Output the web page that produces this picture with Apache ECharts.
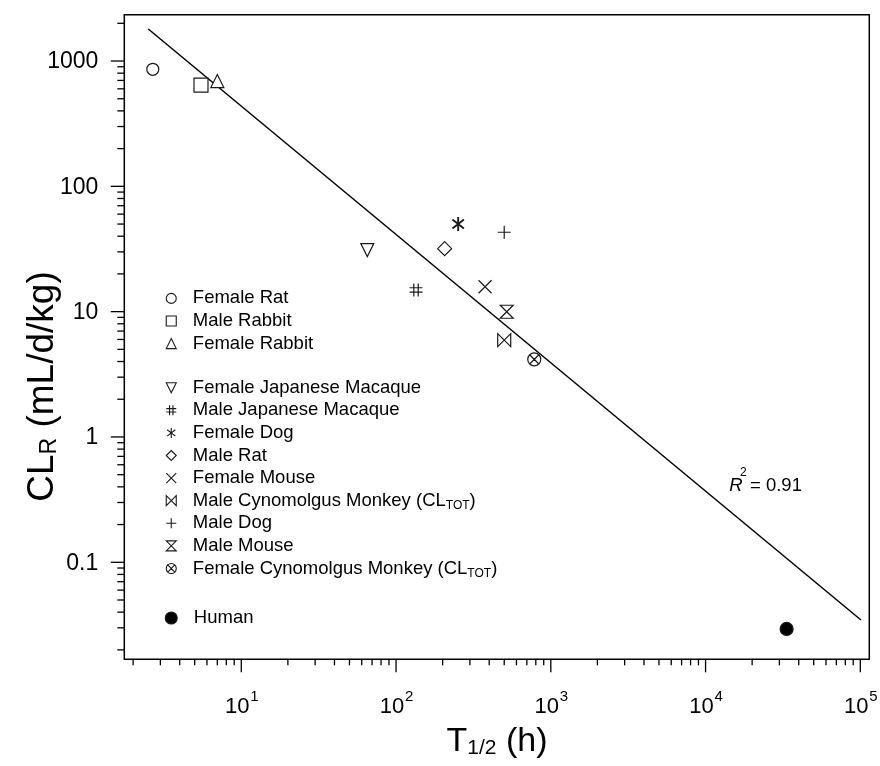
<!DOCTYPE html>
<html>
<head>
<meta charset="utf-8">
<script src="https://cdn.jsdelivr.net/npm/echarts@6.0.0/dist/echarts.min.js"></script>
<style>
  html, body { margin: 0; padding: 0; background: #fff; }
  #chart { width: 880px; height: 766px; }
</style>
</head>
<body>
<div id="chart"></div>
<script>
// Renal clearance versus elimination half-life across species, log-log scale.
const species = [
  'Female Rat', 'Male Rabbit', 'Female Rabbit',
  'Female Japanese Macaque', 'Male Japanese Macaque', 'Female Dog', 'Male Rat',
  'Female Mouse', 'Male Cynomolgus Monkey', 'Male Dog', 'Male Mouse',
  'Female Cynomolgus Monkey', 'Human'
];
const halfLife  = [2.68, 5.49, 7.0, 65.2, 134.6, 252, 206, 376, 500, 500, 519, 782, 33400];
const clearance = [859, 643, 692, 31.0, 14.9, 50.0, 31.8, 15.8, 5.93, 43.0, 9.98, 4.16, 0.0294];
// species whose value is total clearance (CL_TOT)
const totalClearance = ['Male Cynomolgus Monkey', 'Female Cynomolgus Monkey'];

// regression line end points
const fitHalfLife  = [2.506, 101000];
const fitClearance = [1801, 0.0346];
const rSquared = '0.91';

// axis ranges and ticks
const xRange = [1.754, 114300];
const yRange = [0.01682, 2342];
const xMajorTicks = [10, 100, 1000, 10000, 100000];
const xTickExponents = ['1', '2', '3', '4', '5'];
const yMajorTicks = [0.1, 1, 10, 100, 1000];
const yTickLabels = ['0.1', '1', '10', '100', '1000'];
const minorMultipliers = [2, 3, 4, 5, 6, 7, 8, 9];
const decades = [0.01, 0.1, 1, 10, 100, 1000, 10000];

function minorTicks(range) {
  const out = [];
  decades.forEach(d => minorMultipliers.forEach(m => {
    const v = +(d * m).toPrecision(6);
    if (v >= range[0] && v <= range[1]) out.push(v);
  }));
  return out;
}
const xMinorTicks = minorTicks(xRange);
const yMinorTicks = minorTicks(yRange);

const FONT = '"Liberation Sans", Arial, Helvetica, sans-serif';
const INK = '#000';
const MARK = '#1a1a1a';

// marker shapes per species
const markerStyle = {
  'Female Rat':               { symbol: 'circle', size: 12 },
  'Male Rabbit':              { symbol: 'rect', size: 14 },
  'Female Rabbit':            { symbol: 'triangle', size: 13 },
  'Female Japanese Macaque':  { symbol: 'path://M0,0 L10,0 L5,10 Z', size: 13 },
  'Male Japanese Macaque':    { symbol: 'path://M3.3,0 L3.3,10 M6.7,0 L6.7,10 M0,3.3 L10,3.3 M0,6.7 L10,6.7', size: 13 },
  'Female Dog':               { symbol: 'path://M5,0 L5,10 M0.9,1.8 L9.1,8.2 M0.9,8.2 L9.1,1.8', size: 14, width: 1.9 },
  'Male Rat':                 { symbol: 'diamond', size: 14 },
  'Female Mouse':             { symbol: 'path://M0,0 L10,10 M0,10 L10,0', size: 13 },
  'Male Cynomolgus Monkey':   { symbol: 'path://M0,0 L10,10 L10,0 L0,10 Z', size: 13 },
  'Male Dog':                 { symbol: 'path://M5,0 L5,10 M0,5 L10,5', size: 13 },
  'Male Mouse':               { symbol: 'path://M0,0 L10,0 L0,10 L10,10 Z', size: 13 },
  'Female Cynomolgus Monkey': { symbol: 'path://M10,5 A5,5 0 1 1 0,5 A5,5 0 1 1 10,5 Z M1.46,1.46 L8.54,8.54 M1.46,8.54 L8.54,1.46', size: 13 },
  'Human':                    { symbol: 'circle', size: 13, fill: '#000' }
};

const scatterSeries = species.map((name, i) => {
  const m = markerStyle[name];
  return {
    type: 'scatter',
    name: name,
    data: [[halfLife[i], clearance[i]]],
    symbol: m.symbol,
    symbolSize: m.size,
    symbolKeepAspect: true,
    itemStyle: { color: m.fill || '#fff', borderColor: MARK, borderWidth: m.width || 1.2, opacity: 1 },
    z: 4,
    silent: true
  };
});

const fitSeries = {
  type: 'line',
  name: 'fit',
  data: fitHalfLife.map((t, i) => [t, fitClearance[i]]),
  showSymbol: false,
  symbol: 'none',
  lineStyle: { color: INK, width: 1.5 },
  z: 3,
  silent: true
};

const TICK = { stroke: INK, lineWidth: 1.3 };

const xMajorSeries = {
  type: 'custom', name: 'xMajor', silent: true, clip: false, z: 5,
  data: xMajorTicks.map(v => [v, 1]),
  renderItem: (params, api) => {
    const cs = params.coordSys;
    const x = api.coord([api.value(0), 1])[0];
    const b = cs.y + cs.height;
    return {
      type: 'group',
      children: [
        { type: 'line', shape: { x1: x, y1: b, x2: x, y2: b + 13 }, style: TICK },
        { type: 'text', x: x - 4, y: b + 47.2,
          style: { text: '10', font: '22px ' + FONT, fill: INK, align: 'center', verticalAlign: 'middle' } },
        { type: 'text', x: x + 9, y: b + 37.5,
          style: { text: xTickExponents[params.dataIndex], font: '15px ' + FONT, fill: INK, align: 'left', verticalAlign: 'middle' } }
      ]
    };
  }
};

const xMinorSeries = {
  type: 'custom', name: 'xMinor', silent: true, clip: false, z: 5,
  data: xMinorTicks.map(v => [v, 1]),
  renderItem: (params, api) => {
    const cs = params.coordSys;
    const x = api.coord([api.value(0), 1])[0];
    const b = cs.y + cs.height;
    return { type: 'line', shape: { x1: x, y1: b, x2: x, y2: b + 6 }, style: TICK };
  }
};

const yMajorSeries = {
  type: 'custom', name: 'yMajor', silent: true, clip: false, z: 5,
  data: yMajorTicks.map(v => [1, v]),
  renderItem: (params, api) => {
    const cs = params.coordSys;
    const y = api.coord([1, api.value(1)])[1];
    const l = cs.x;
    return {
      type: 'group',
      children: [
        { type: 'line', shape: { x1: l, y1: y, x2: l - 13.5, y2: y }, style: TICK },
        { type: 'text', x: l - 26, y: y + 1,
          style: { text: yTickLabels[params.dataIndex], font: '23px ' + FONT, fill: INK, align: 'right', verticalAlign: 'middle' } }
      ]
    };
  }
};

const yMinorSeries = {
  type: 'custom', name: 'yMinor', silent: true, clip: false, z: 5,
  data: yMinorTicks.map(v => [1, v]),
  renderItem: (params, api) => {
    const cs = params.coordSys;
    const y = api.coord([1, api.value(1)])[1];
    const l = cs.x;
    return { type: 'line', shape: { x1: l, y1: y, x2: l - 7, y2: y }, style: TICK };
  }
};

function legendLabel(name) {
  if (totalClearance.indexOf(name) >= 0) {
    return '{n|' + name + ' (CL}{s|TOT}{n|)}';
  }
  return '{n|' + name + '}';
}

const legendBase = {
  orient: 'vertical',
  left: 165.7,
  padding: 0,
  itemWidth: 10,
  itemHeight: 10,
  itemGap: 0,
  selectedMode: false,
  itemStyle: { borderWidth: 1.1 },
  formatter: legendLabel,
  textStyle: {
    color: INK,
    fontFamily: FONT,
    fontSize: 18.5,
    lineHeight: 22.6,
    padding: [0, 0, 0, 11.6],
    rich: {
      n: { fontFamily: FONT, fontSize: 18.5, lineHeight: 22.6, color: INK },
      s: { fontFamily: FONT, fontSize: 12, lineHeight: 6, verticalAlign: 'bottom', color: INK }
    }
  }
};

const chart = echarts.init(document.getElementById('chart'), null, { renderer: 'canvas' });

chart.setOption({
  animation: false,
  backgroundColor: '#fff',
  grid: {
    left: 124.3, top: 14.7, width: 745, height: 644.6,
    show: true, borderColor: INK, borderWidth: 1.5, backgroundColor: 'transparent',
    containLabel: false, outerBoundsMode: 'none'
  },
  xAxis: {
    type: 'log', logBase: 10, min: xRange[0], max: xRange[1],
    axisLine: { show: false }, axisTick: { show: false }, axisLabel: { show: false },
    splitLine: { show: false }, minorTick: { show: false }, minorSplitLine: { show: false }
  },
  yAxis: {
    type: 'log', logBase: 10, min: yRange[0], max: yRange[1],
    axisLine: { show: false }, axisTick: { show: false }, axisLabel: { show: false },
    splitLine: { show: false }, minorTick: { show: false }, minorSplitLine: { show: false }
  },
  legend: [
    Object.assign({}, legendBase, { top: 287.1, data: species.slice(0, 3) }),
    Object.assign({}, legendBase, { top: 376.4, data: species.slice(3, 12) }),
    Object.assign({}, legendBase, { top: 606.7, left: 164.7, itemWidth: 12, itemHeight: 12, data: ['Human'] })
  ],
  graphic: [
    {
      type: 'text', x: 497, y: 741.5,
      style: {
        text: '{b|T}{s|1/2}{b| (h)}', align: 'center', verticalAlign: 'middle', fill: INK,
        rich: {
          b: { fontFamily: FONT, fontSize: 34, lineHeight: 34, fill: INK },
          s: { fontFamily: FONT, fontSize: 21, lineHeight: 8, verticalAlign: 'bottom', fill: INK }
        }
      }
    },
    {
      type: 'text', x: 42.5, y: 386.5, rotation: Math.PI / 2,
      style: {
        text: '{b|CL}{s|R}{b| (mL/d/kg)}', align: 'center', verticalAlign: 'middle', fill: INK,
        rich: {
          b: { fontFamily: FONT, fontSize: 37, lineHeight: 37, fill: INK },
          s: { fontFamily: FONT, fontSize: 23, lineHeight: 9, verticalAlign: 'bottom', fill: INK }
        }
      }
    },
    {
      type: 'group', children: [
        { type: 'text', x: 729.3, y: 486,
          style: { text: 'R', font: 'italic 18.5px ' + FONT, fill: INK, align: 'left', verticalAlign: 'middle' } },
        { type: 'text', x: 740, y: 473,
          style: { text: '2', font: '12px ' + FONT, fill: INK, align: 'left', verticalAlign: 'middle' } },
        { type: 'text', x: 750, y: 486,
          style: { text: '= ' + rSquared, font: '18.5px ' + FONT, fill: INK, align: 'left', verticalAlign: 'middle' } }
      ]
    }
  ],
  series: [fitSeries].concat(scatterSeries, [xMajorSeries, xMinorSeries, yMajorSeries, yMinorSeries])
});
</script>
</body>
</html>
